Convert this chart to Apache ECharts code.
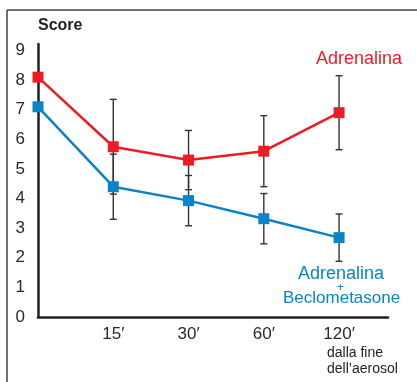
<!DOCTYPE html>
<html>
<head>
<meta charset="utf-8">
<script src="https://cdn.jsdelivr.net/npm/echarts@6/dist/echarts.min.js"></script>
<style>
  html, body { margin: 0; padding: 0; background: #fff; }
  #chart { width: 417px; height: 382px; }
</style>
</head>
<body>
<div id="chart"></div>
<script>
// time points (index on x axis), first one is the start of the aerosol
const timeLabels = ['', '15\u2032', '30\u2032', '60\u2032', '120\u2032'];
const yTicks = [0, 1, 2, 3, 4, 5, 6, 7, 8, 9];

// Adrenalina
const adrValues = [8.1, 5.75, 5.3, 5.6, 6.9];
const adrErr = [0, 1.6, 1.0, 1.2, 1.25];

// Adrenalina + Beclometasone
const beclValues = [7.1, 4.4, 3.93, 3.32, 2.68];
const beclErr = [0, 1.1, 0.85, 0.85, 0.8];

const RED = '#ed1c24';
const BLUE = '#0a84c6';
const FONT = '"Liberation Sans", Arial, sans-serif';

var dom = document.getElementById('chart');
var myChart = echarts.init(dom, null, { renderer: 'canvas' });

function pts(values) {
    return values.map(function (v, i) { return [i, v]; });
}
function errData(values, errs) {
    var out = [];
    values.forEach(function (v, i) {
        if (errs[i] > 0) out.push([i, v - errs[i], v + errs[i]]);
    });
    return out;
}

// vertical error bar with small caps
function renderErr(params, api) {
    var lo = api.coord([api.value(0), api.value(1)]);
    var hi = api.coord([api.value(0), api.value(2)]);
    var w = 3.5;
    var st = { stroke: '#333', lineWidth: 1.4 };
    return {
        type: 'group',
        children: [
            { type: 'line', shape: { x1: lo[0], y1: lo[1], x2: hi[0], y2: hi[1] }, style: st },
            { type: 'line', shape: { x1: lo[0] - w, y1: lo[1], x2: lo[0] + w, y2: lo[1] }, style: st },
            { type: 'line', shape: { x1: hi[0] - w, y1: hi[1], x2: hi[0] + w, y2: hi[1] }, style: st }
        ]
    };
}

const option = {
    animation: false,
    grid: { left: 38, right: 29, top: 44, bottom: 65 },
    xAxis: {
        type: 'value',
        min: 0,
        max: 4.65,
        interval: 1,
        splitLine: { show: false },
        axisTick: { show: false },
        axisLine: { lineStyle: { color: '#222', width: 2.5 } },
        axisLabel: {
            margin: 9,
            fontFamily: FONT,
            fontSize: 17,
            color: '#2a2a2a',
            formatter: function (v) {
                return Number.isInteger(v) ? (timeLabels[v] || '') : '';
            }
        }
    },
    yAxis: {
        type: 'value',
        min: 0,
        max: 9.22,
        interval: 1,
        splitLine: { show: false },
        axisTick: { show: false },
        axisLine: { show: true, lineStyle: { color: '#222', width: 2.5 } },
        axisLabel: {
            margin: 13,
            fontFamily: FONT,
            fontSize: 17,
            color: '#2a2a2a',
            formatter: function (v) {
                return yTicks.indexOf(v) >= 0 ? String(v) : '';
            }
        }
    },
    graphic: [
        { type: 'line', shape: { x1: 7, y1: 10, x2: 420, y2: 10 }, style: { stroke: '#444', lineWidth: 1.5 } },
        { type: 'line', shape: { x1: 7, y1: 10, x2: 7, y2: 390 }, style: { stroke: '#444', lineWidth: 1.5 } },
        { type: 'text', left: 38, top: 18, style: { text: 'Score', font: 'bold 16px ' + FONT, fill: '#222' } },
        { type: 'text', right: 15, top: 50, style: { text: 'Adrenalina', font: '18px ' + FONT, fill: RED } },
        { type: 'text', left: 298, top: 265, style: { text: 'Adrenalina', font: '18px ' + FONT, fill: BLUE } },
        { type: 'text', left: 337, top: 282, style: { text: '+', font: '12px ' + FONT, fill: BLUE } },
        { type: 'text', left: 283, top: 290, style: { text: 'Beclometasone', font: '17px ' + FONT, fill: BLUE } },
        { type: 'text', left: 327, top: 345, style: { text: 'dalla fine\ndell\u2019aerosol', font: '14px ' + FONT, fill: '#222', lineHeight: 16 } }
    ],
    series: [
        {
            name: 'err-adr',
            type: 'custom',
            renderItem: renderErr,
            data: errData(adrValues, adrErr),
            z: 1
        },
        {
            name: 'err-becl',
            type: 'custom',
            renderItem: renderErr,
            data: errData(beclValues, beclErr),
            z: 1
        },
        {
            name: 'Adrenalina',
            type: 'line',
            data: pts(adrValues),
            symbol: 'rect',
            symbolSize: 11,
            lineStyle: { color: RED, width: 2.5 },
            itemStyle: { color: RED },
            z: 3
        },
        {
            name: 'Adrenalina + Beclometasone',
            type: 'line',
            data: pts(beclValues),
            symbol: 'rect',
            symbolSize: 11,
            lineStyle: { color: BLUE, width: 2.5 },
            itemStyle: { color: BLUE },
            z: 3
        }
    ]
};

if (option && typeof option === 'object') {
    myChart.setOption(option);
}

window.addEventListener('resize', myChart.resize);
</script>
</body>
</html>
